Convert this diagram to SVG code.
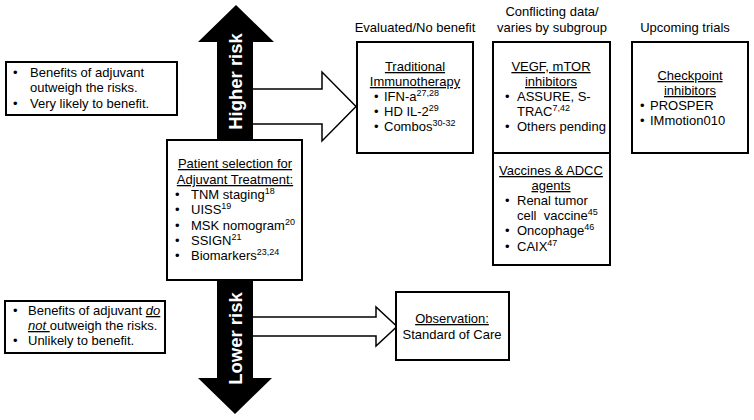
<svg xmlns="http://www.w3.org/2000/svg" width="754" height="420" viewBox="0 0 754 420">
<style>
text{font-family:"Liberation Sans",Arial,sans-serif;font-size:13px;fill:#000}
.box{fill:#fff;stroke:#000;stroke-width:2}
.hollow{fill:#fff;stroke:#000;stroke-width:1.5;stroke-linejoin:miter}
.c{text-anchor:middle}
.u{text-decoration:underline}
.sup{font-size:9px}
.risk{font-size:18.5px;font-weight:bold;fill:#fff;text-anchor:middle}
</style>
<rect width="754" height="420" fill="#fff"/>
<g id="connectors">
<path class="hollow" d="M253,89 H322 V72 L356,106.5 L322,141 V124 H253"/>
<path class="hollow" d="M253,317 H376 V307 L397,326.5 L376,346 V336 H253"/>
<polygon fill="#000" points="236,5 274,42 253,42 253,378 272,378 235,414 198,378 217,378 217,42 198,42"/>
<text class="risk" transform="translate(241.5,81.5) rotate(-90)">Higher risk</text>
<text class="risk" transform="translate(241.5,338.5) rotate(-90)">Lower risk</text>
</g>
<g id="high-benefit">
<rect class="box" x="6" y="62" width="171" height="53"/>
<text x="13" y="77">•</text><text x="30" y="77">Benefits of adjuvant</text>
<text x="30" y="92">outweigh the risks.</text>
<text x="13" y="108">•</text><text x="30" y="108">Very likely to benefit.</text>
</g>
<g id="low-benefit">
<rect class="box" x="5" y="301" width="160" height="52"/>
<text x="13" y="315">•</text><text x="28" y="315">Benefits of adjuvant <tspan font-style="italic" class="u">do</tspan></text>
<text x="28" y="330"><tspan font-style="italic" class="u">not </tspan>outweigh the risks.</text>
<text x="13" y="345">•</text><text x="28" y="345">Unlikely to benefit.</text>
</g>
<g id="patient-selection">
<rect class="box" x="167" y="140" width="135" height="140"/>
<text class="c u" x="235" y="168">Patient selection for</text>
<text class="c u" x="235" y="184">Adjuvant Treatment:</text>
<text x="175" y="199">•</text><text x="191" y="199">TNM staging<tspan class="sup" dy="-5">18</tspan></text>
<text x="175" y="214">•</text><text x="191" y="214">UISS<tspan class="sup" dy="-5">19</tspan></text>
<text x="175" y="230">•</text><text x="191" y="230">MSK nomogram<tspan class="sup" dy="-5">20</tspan></text>
<text x="175" y="245">•</text><text x="191" y="245">SSIGN<tspan class="sup" dy="-5">21</tspan></text>
<text x="175" y="260">•</text><text x="191" y="260">Biomarkers<tspan class="sup" dy="-5">23,24</tspan></text>
</g>
<g id="header-evaluated">
<text class="c" x="415" y="32">Evaluated/No benefit</text>
</g>
<g id="header-conflicting">
<text class="c" x="552" y="16">Conflicting data/</text>
<text class="c" x="552" y="32">varies by subgroup</text>
</g>
<g id="header-upcoming">
<text class="c" x="685" y="32">Upcoming trials</text>
</g>
<g id="traditional-immunotherapy">
<rect class="box" x="357" y="42" width="116" height="111"/>
<text class="c u" x="415" y="71">Traditional</text>
<text class="c u" x="415" y="86">Immunotherapy</text>
<text x="374" y="101">•</text><text x="384" y="101">IFN-a<tspan class="sup" dy="-5">27,28</tspan></text>
<text x="374" y="116">•</text><text x="384" y="116">HD IL-2<tspan class="sup" dy="-5">29</tspan></text>
<text x="374" y="131">•</text><text x="384" y="131">Combos<tspan class="sup" dy="-5">30-32</tspan></text>
</g>
<g id="vegf-mtor">
<rect class="box" x="493" y="42" width="117" height="111"/>
<text class="c u" x="551" y="71">VEGF, mTOR</text>
<text class="c u" x="551" y="86">inhibitors</text>
<text x="505" y="101">•</text><text x="517" y="101">ASSURE, S-</text>
<text x="517" y="116">TRAC<tspan class="sup" dy="-5">7,42</tspan></text>
<text x="505" y="131">•</text><text x="517" y="131">Others pending</text>
</g>
<g id="vaccines">
<rect class="box" x="493" y="153" width="117" height="112"/>
<text class="c u" x="551" y="175">Vaccines &amp; ADCC</text>
<text class="c u" x="551" y="190">agents</text>
<text x="505" y="205">•</text><text x="517" y="205">Renal tumor</text>
<text x="517" y="220" style="white-space:pre">cell  vaccine<tspan class="sup" dy="-5">45</tspan></text>
<text x="505" y="235">•</text><text x="517" y="235">Oncophage<tspan class="sup" dy="-5">46</tspan></text>
<text x="505" y="251">•</text><text x="517" y="251">CAIX<tspan class="sup" dy="-5">47</tspan></text>
</g>
<g id="checkpoint">
<rect class="box" x="632" y="42" width="116" height="111"/>
<text class="c u" x="690" y="80">Checkpoint</text>
<text class="c u" x="690" y="95">inhibitors</text>
<text x="640" y="110">•</text><text x="650" y="110">PROSPER</text>
<text x="640" y="125">•</text><text x="650" y="125">IMmotion010</text>
</g>
<g id="observation">
<rect class="box" x="396" y="292" width="113" height="68"/>
<text class="c u" x="452" y="323">Observation:</text>
<text class="c" x="452" y="339">Standard of Care</text>
</g>
</svg>
